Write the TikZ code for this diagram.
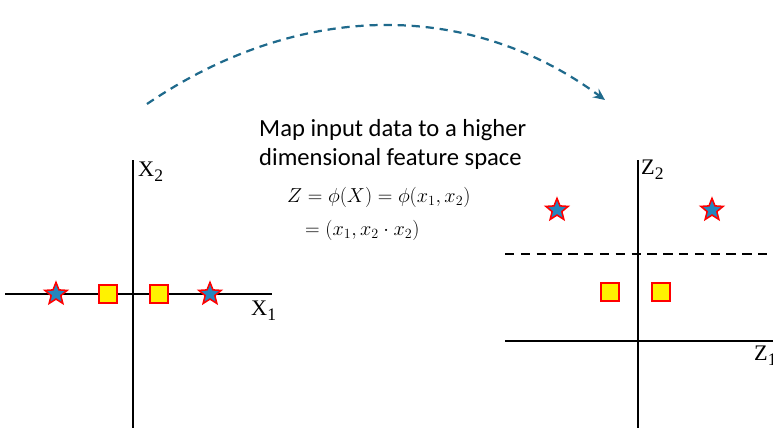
\documentclass[tikz,border=0pt]{standalone}
\usepackage{fontspec}
\setmainfont{Carlito}
\newfontfamily\serif{Liberation Serif}
\usetikzlibrary{shapes.geometric,arrows.meta}
\definecolor{arrowblue}{HTML}{1F6A8C}
\definecolor{starblue}{HTML}{2486BE}
\tikzset{
  starpt/.style={star, star points=5, star point ratio=2.3, minimum size=0.7cm, inner sep=0, fill=starblue, draw=red, line width=1.3pt},
  sqpt/.style={rectangle, minimum size=0.54cm, inner sep=0, fill=yellow, draw=red, line width=1.1pt},
  axis/.style={line width=2.3pt},
  axlab/.style={font=\serif\fontsize{19}{19}\selectfont, inner sep=0, anchor=north west}
}
\newcommand{\sublab}[2]{#1\raisebox{-0.45ex}{\fontsize{15}{15}\selectfont #2}}
\begin{document}
\begin{tikzpicture}[x=0.03cm,y=-0.03cm]
  \useasboundingbox (0,0) rectangle (773,429);
  % input space
  \coordinate (xl) at (5,294);   \coordinate (xr) at (272,294);
  \coordinate (xb) at (133,428); \coordinate (xt) at (133,160);
  \draw[axis] (xl) -- (xr);
  \draw[axis] (xb) -- (xt);
  \node[axlab] (x1) at (251,301) {\sublab{X}{1}};
  \node[axlab] (x2) at (138,162) {\sublab{X}{2}};
  \foreach \i/\px in {1/56,2/210} {
    \node[starpt] (xs\i) at (\px,294) {};
  }
  \foreach \i/\px in {1/108,2/159} {
    \node[sqpt] (xq\i) at (\px,294) {};
  }
  % feature space
  \coordinate (zl) at (505,341); \coordinate (zr) at (773,341);
  \coordinate (zb) at (638,428); \coordinate (zt) at (638,160);
  \coordinate (dl) at (505,254); \coordinate (dr) at (773,254);
  \draw[axis] (zl) -- (zr);
  \draw[axis] (zb) -- (zt);
  \draw[axis, dash pattern=on 8pt off 5.5pt] (dl) -- (dr);
  \node[axlab] (z1) at (754,346) {\sublab{Z}{1}};
  \node[axlab] (z2) at (641,160) {\sublab{Z}{2}};
  \foreach \i/\px in {1/557,2/712} {
    \node[starpt] (zs\i) at (\px,210) {};
  }
  \foreach \i/\px in {1/610,2/661} {
    \node[sqpt] (zq\i) at (\px,292) {};
  }
  % mapping
  \node[anchor=north west, align=left, inner sep=0, font=\fontsize{21}{24.6}\selectfont] (txt) at (259,119)
    {Map input data to a higher\\dimensional feature space};
  \node[anchor=west, inner sep=0, font=\fontsize{18}{18}\selectfont] (eq1) at (287,197) {$Z=\phi(X)=\phi(x_1,x_2)$};
  \node[anchor=west, inner sep=0, font=\fontsize{18}{18}\selectfont] (eq2) at (305,230) {$=(x_1,x_2\cdot x_2)$};
  \coordinate (from) at (147,104);
  \coordinate (to) at (605,100);
  \draw[arrowblue, line width=1.9pt, dash pattern=on 7pt off 5pt, -{Stealth[length=10pt,width=9pt,inset=3.5pt]}]
    (from) .. controls (300,0) and (470,0) .. (to);
\end{tikzpicture}
\end{document}
